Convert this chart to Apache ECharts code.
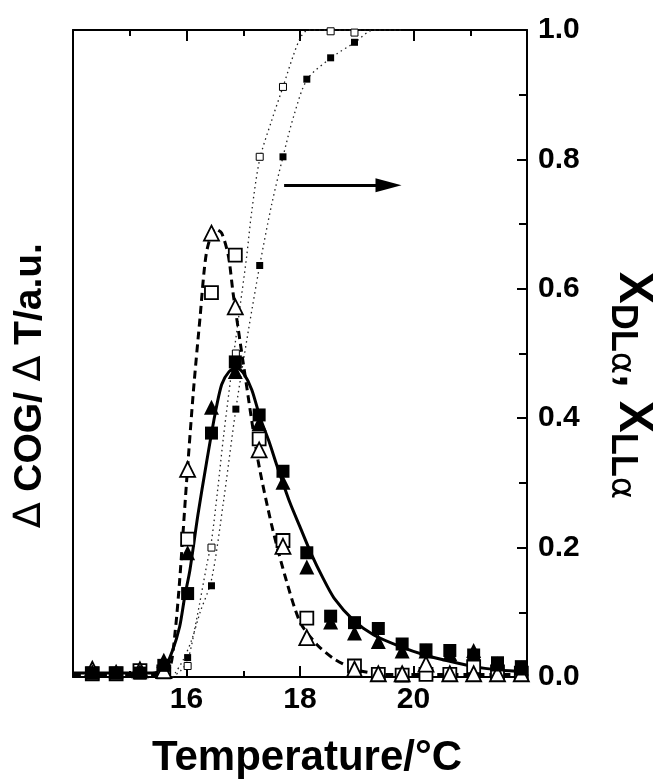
<!DOCTYPE html>
<html><head><meta charset="utf-8">
<script src="https://cdn.jsdelivr.net/npm/echarts@6/dist/echarts.min.js"></script>
<style>html,body{margin:0;padding:0;background:#fff}#c{width:665px;height:779px}</style>
</head><body><div id="c"></div>
<script>
// ---- data ----
const temps = [14.34,14.76,15.18,15.60,16.02,16.44,16.86,17.28,17.70,18.12,18.54,18.96,19.38,19.80,20.22,20.64,21.06,21.48,21.90];
const filledSquares   = [0.006,0.006,0.006,0.018,0.129,0.377,0.487,0.405,0.318,0.192,0.094,0.084,0.075,0.051,0.042,0.041,0.034,0.022,0.016];
const filledTriangles = [0.008,0.009,0.008,0.026,0.192,0.417,0.472,0.392,0.301,0.170,0.085,0.068,0.055,0.040,0.040,0.036,0.041,0.020,0.014];
const openSquares     = [0.005,0.005,0.010,0.008,0.213,0.594,0.652,0.368,0.211,0.091,null,0.017,0.004,0.003,0.004,0.004,0.016,0.008,0.006];
const openTriangles   = [0.012,null,0.011,0.010,0.321,0.686,0.572,0.351,0.202,0.061,null,0.012,0.005,0.005,0.020,0.005,0.005,0.005,0.005];

const fracTemps  = [16.02,16.44,16.87,17.29,17.70,18.12,18.54,18.96];
const fracOpen   = [0.017,0.200,0.500,0.804,0.912,null,0.998,0.996];
const fracFilled = [0.030,0.141,0.414,0.636,0.804,0.924,0.957,0.981];

const solidFitT = [14.0,15.4,15.6,15.75,15.88,15.97,16.06,16.2,16.35,16.5,16.62,16.75,16.88,17.0,17.15,17.3,17.45,17.6,17.82,18.0,18.2,18.41,18.6,18.94,19.3,19.77,20.2,20.6,21.06,21.5,22.0];
const solidFitY = [0.006,0.006,0.012,0.04,0.078,0.125,0.165,0.25,0.33,0.405,0.452,0.472,0.478,0.47,0.444,0.40,0.365,0.325,0.27,0.232,0.19,0.152,0.122,0.088,0.065,0.047,0.034,0.025,0.016,0.011,0.008];
const dashFitT = [14.0,15.5,15.7,15.8,15.88,16.0,16.12,16.24,16.35,16.5,16.62,16.74,16.82,16.94,17.0,17.26,17.5,17.74,18.0,18.3,18.6,19.0,19.5,22.0];
const dashFitY = [0.004,0.004,0.012,0.07,0.15,0.30,0.44,0.557,0.655,0.693,0.686,0.65,0.594,0.521,0.485,0.335,0.235,0.155,0.085,0.05,0.028,0.011,0.004,0.004];
const dotOpenT = [15.75,15.9,16.02,16.18,16.35,16.44,16.55,16.65,16.82,16.94,17.06,17.15,17.29,17.5,17.70,17.88,18.02,18.15,19.4];
const dotOpenY = [0.0,0.01,0.025,0.09,0.17,0.21,0.29,0.37,0.49,0.57,0.65,0.72,0.80,0.86,0.912,0.96,0.99,1.0,1.0];
const dotFilledT = [15.8,15.94,16.09,16.24,16.44,16.65,16.87,17.08,17.29,17.5,17.70,17.9,18.13,18.55,18.97,19.3,19.8];
const dotFilledY = [0.006,0.026,0.057,0.10,0.15,0.27,0.414,0.53,0.636,0.73,0.804,0.87,0.924,0.957,0.981,1.0,1.0];

const arrowFrom = [17.72, 0.76];
const arrowTo   = [19.56, 0.76];

const xTickLabels = {16:'16', 18:'18', 20:'20'};
const yTickLabels = ['0.0','0.2','0.4','0.6','0.8','1.0'];

// ---- build ----
const zip = (a, b) => a.map((v, i) => [v, b[i]]).filter(p => p[1] != null);
const FONT = 'Liberation Sans, Arial, sans-serif';
const lineAxis = {show:true, onZero:false, lineStyle:{color:'#000', width:2}};

const chart = echarts.init(document.getElementById('c'), null, {renderer:'canvas'});
chart.setOption({
  backgroundColor:'#fff',
  animation:false,
  grid:{left:73, right:138, top:30, bottom:102, containLabel:false, outerBoundsMode:'none'},
  xAxis:[{
    type:'value', min:14, max:22, interval:2, position:'bottom',
    axisLine:lineAxis,
    axisTick:{show:true, inside:true, length:11, lineStyle:{color:'#000', width:2}},
    minorTick:{show:true, splitNumber:2, length:6, lineStyle:{color:'#000', width:2}},
    splitLine:{show:false},
    axisLabel:{formatter:v => xTickLabels[v] || '', fontSize:30, fontWeight:'bold', fontFamily:FONT, color:'#000', margin:8},
    name:'Temperature/°C', nameLocation:'middle', nameGap:60,
    nameTextStyle:{fontSize:42, fontWeight:'bold', fontFamily:FONT, color:'#000', padding:[0,0,0,14]}
  },{
    type:'value', min:14, max:22, interval:2, position:'top',
    axisLine:lineAxis,
    axisTick:{show:true, inside:true, length:11, lineStyle:{color:'#000', width:2}},
    minorTick:{show:true, splitNumber:2, length:6, lineStyle:{color:'#000', width:2}},
    splitLine:{show:false}, axisLabel:{show:false}
  }],
  yAxis:[{
    type:'value', min:0, max:1, position:'left',
    axisLine:lineAxis, axisTick:{show:false}, axisLabel:{show:false}, splitLine:{show:false},
    name:'{d|∆} COG/ {d|∆} T/a.u.', nameLocation:'middle', nameRotate:90, nameGap:23,
    nameTextStyle:{fontSize:39, fontWeight:'bold', fontFamily:FONT, color:'#000', padding:[0,64,0,0],
      rich:{d:{fontSize:38, fontWeight:'normal', fontFamily:'DejaVu Sans', color:'#000'}}}
  },{
    type:'value', min:0, max:1, interval:0.2, position:'right',
    axisLine:lineAxis,
    axisTick:{show:true, inside:true, length:10, lineStyle:{color:'#000', width:2}},
    minorTick:{show:true, splitNumber:2, length:8, lineStyle:{color:'#000', width:2}},
    splitLine:{show:false},
    axisLabel:{formatter:(v) => yTickLabels[Math.round(v*5)], fontSize:30, fontWeight:'bold', fontFamily:FONT, color:'#000', margin:11},
    name:'{x|X}{s|D}{s|L}{a|α}{x|, X}{s|L}{s|L}{a|α}', nameLocation:'middle', nameRotate:-90, nameGap:80,
    nameTextStyle:{color:'#000', padding:[0,0,0,64],
      rich:{
        x:{fontSize:48, fontWeight:'bold', fontFamily:FONT, color:'#000', lineHeight:50, verticalAlign:'top'},
        s:{fontSize:36, fontWeight:'bold', fontFamily:FONT, color:'#000', lineHeight:38, padding:[20,0,0,0]},
        a:{fontSize:34, fontWeight:'normal', fontFamily:'DejaVu Sans', color:'#000', lineHeight:38, padding:[22,0,0,0]}
      }}
  }],
  series:[
    {type:'line', name:'fit filled', data:zip(solidFitT, solidFitY), smooth:0.25, showSymbol:false, symbol:'none',
     lineStyle:{color:'#000', width:3}, z:3},
    {type:'line', name:'fit open', data:zip(dashFitT, dashFitY), smooth:0.25, showSymbol:false, symbol:'none',
     lineStyle:{color:'#000', width:3, type:[8,5]}, z:3},
    {type:'line', name:'frac open curve', data:zip(dotOpenT, dotOpenY), smooth:0.3, showSymbol:false, symbol:'none',
     lineStyle:{color:'#222', width:1.3, type:[1.5,3.5]}, z:2},
    {type:'line', name:'frac filled curve', data:zip(dotFilledT, dotFilledY), smooth:0.3, showSymbol:false, symbol:'none',
     lineStyle:{color:'#222', width:1.3, type:[1.5,3.5]}, z:2},
    {type:'scatter', name:'open squares', data:zip(temps, openSquares), symbol:'rect', symbolSize:13,
     itemStyle:{color:'#fff', borderColor:'#000', borderWidth:1.8, opacity:1}, z:4},
    {type:'scatter', name:'open triangles', data:zip(temps, openTriangles), symbol:'triangle', symbolSize:15,
     itemStyle:{color:'#fff', borderColor:'#000', borderWidth:1.8, opacity:1}, z:4},
    {type:'scatter', name:'filled triangles', data:zip(temps, filledTriangles), symbol:'triangle', symbolSize:15,
     itemStyle:{color:'#000', opacity:1}, z:5},
    {type:'scatter', name:'filled squares', data:zip(temps, filledSquares), symbol:'rect', symbolSize:13,
     itemStyle:{color:'#000', opacity:1}, z:5},
    {type:'scatter', name:'frac open', data:zip(fracTemps, fracOpen), symbol:'rect', symbolSize:7,
     itemStyle:{color:'#fff', borderColor:'#000', borderWidth:1, opacity:1}, z:4},
    {type:'scatter', name:'frac filled', data:zip(fracTemps, fracFilled), symbol:'rect', symbolSize:7,
     itemStyle:{color:'#000', opacity:1}, z:4,
     markLine:{silent:true, symbol:['none','triangle'], symbolSize:[1,22], label:{show:false},
       lineStyle:{color:'#000', width:3, type:'solid', opacity:1},
       emphasis:{disabled:true},
       data:[[{coord:arrowFrom, symbol:'none'},{coord:arrowTo, symbol:'triangle', symbolSize:[14,26]}]]}}
  ]
});
</script></body></html>
